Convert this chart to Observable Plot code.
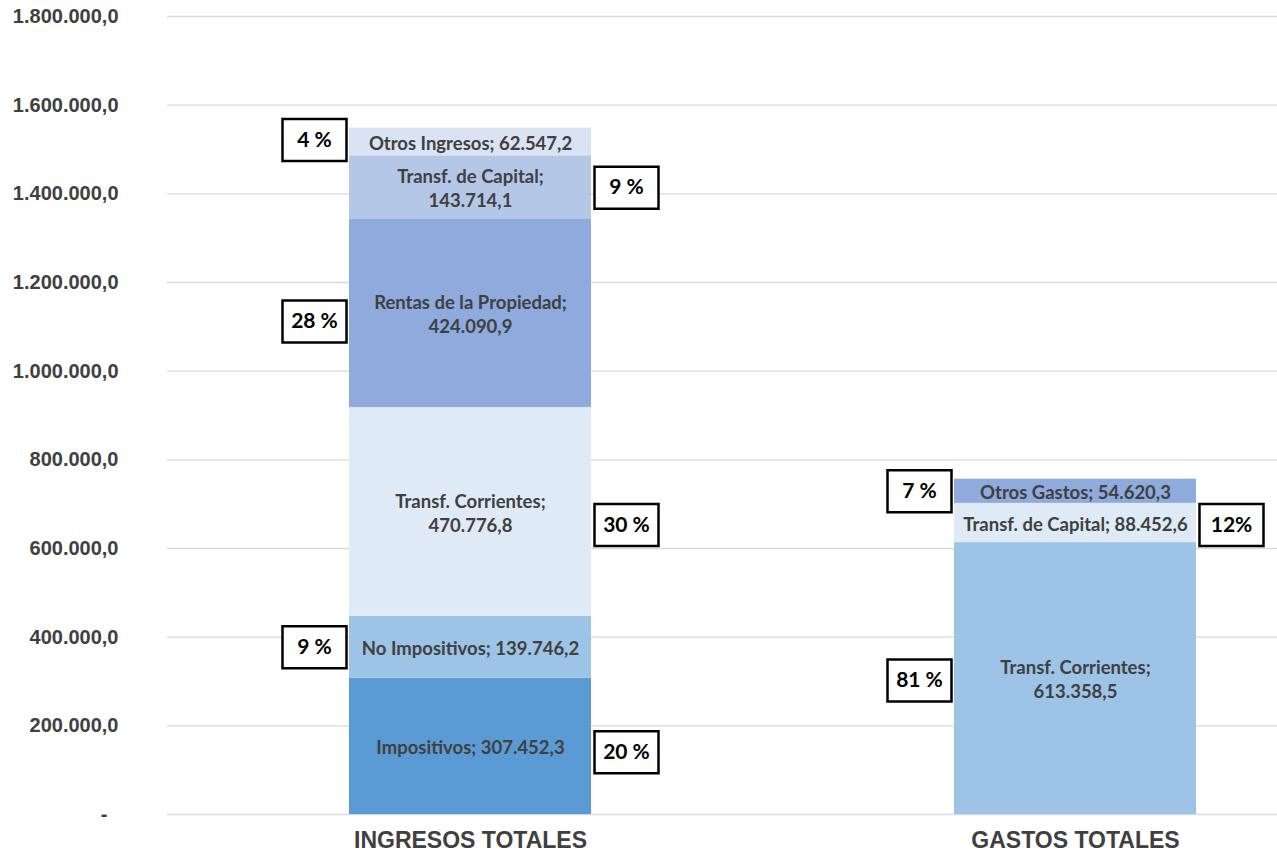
<!DOCTYPE html>
<html><head><meta charset="utf-8">
<script src="https://cdn.jsdelivr.net/npm/d3@7"></script>
<script src="https://cdn.jsdelivr.net/npm/@observablehq/plot@0.6"></script>
<style>
body{margin:0;background:#fff;}
#chart svg [aria-label="x-axis"] text, #chart svg [aria-label="x-axis tick label"] text {font-size:23px;}
</style>
</head><body><div id="chart"></div>
<script>
// ---- data ----
const groups = ["INGRESOS TOTALES", "GASTOS TOTALES"];
const ingresosNames = ["Impositivos", "No Impositivos", "Transf. Corrientes", "Rentas de la Propiedad", "Transf. de Capital", "Otros Ingresos"];
const ingresosValues = [307452.3, 139746.2, 470776.8, 424090.9, 143714.1, 62547.2];
const ingresosPct = ["20 %", "9 %", "30 %", "28 %", "9 %", "4 %"];
const gastosNames = ["Transf. Corrientes", "Transf. de Capital", "Otros Gastos"];
const gastosValues = [613358.5, 88452.6, 54620.3];
const gastosPct = ["81 %", "12%", "7 %"];
const yTicks = [0, 200000, 400000, 600000, 800000, 1000000, 1200000, 1400000, 1600000, 1800000];

// ---- styling / layout config ----
const palette = ["#5B9BD5", "#9DC3E6", "#DEEBF7", "#8FAADC", "#B4C7E7", "#DAE3F3", "#9DC3E6", "#DEEBF7", "#8FAADC"];
const wrapLabel = [false, false, true, true, true, false, true, false, false];
const pctSide = [1, -1, 1, -1, 1, -1, -1, 1, -1];
const pctDy = [6, 0, 13, 8, 0, -2, 2, 2, 0];

const fmt = d3.formatLocale({decimal: ",", thousands: ".", grouping: [3], currency: ["", ""]}).format(",.1f");

const rows = [
  ...ingresosNames.map((name, i) => ({group: groups[0], name, value: ingresosValues[i], pct: ingresosPct[i]})),
  ...gastosNames.map((name, i) => ({group: groups[1], name, value: gastosValues[i], pct: gastosPct[i]}))
].map((d, idx) => ({...d, idx, label: `${d.name};${wrapLabel[idx] ? "\n" : " "}${fmt(d.value)}`}));

const boxSymbol = {draw(ctx) { ctx.moveTo(-32, -21); ctx.lineTo(32, -21); ctx.lineTo(32, 21); ctx.lineTo(-32, 21); ctx.closePath(); }};

const pctMarks = rows.flatMap((r, i) => {
  const test = d => d.idx === i;
  const dx = pctSide[i] * 156, dy = pctDy[i];
  return [
    Plot.dot(rows, Plot.filter(test, Plot.stackY({x: "group", y: "value", symbol: boxSymbol, fill: "white", stroke: "black", strokeWidth: 2.5, dx, dy}))),
    Plot.text(rows, Plot.filter(test, Plot.stackY({x: "group", y: "value", text: "pct", fill: "black", fontFamily: "Lato, sans-serif", fontWeight: "bold", fontSize: 21, dx, dy})))
  ];
});

const chart = Plot.plot({
  width: 1277, height: 855,
  marginTop: 16, marginBottom: 41, marginLeft: 167, marginRight: 0,
  style: {fontFamily: "'Liberation Sans', Arial, sans-serif", fontSize: "20px", fontWeight: "bold", color: "#404040", background: "#fff"},
  x: {domain: groups, range: [167, 1377], paddingInner: 0.6, paddingOuter: 0.3, align: 0.5, label: null, tickSize: 0, tickPadding: 17},
  y: {domain: [0, 1800000], ticks: yTicks, tickFormat: d => d === 0 ? "-\u00a0\u00a0" : fmt(d), tickSize: 0, tickPadding: 49, label: null},
  color: {type: "identity"},
  marks: [
    Plot.ruleY(yTicks, {stroke: "#d9d9d9", strokeWidth: 1.3}),
    Plot.barY(rows, Plot.stackY({x: "group", y: "value", fill: d => palette[d.idx]})),
    Plot.text(rows, Plot.stackY({x: "group", y: "value", text: "label", fill: "#404040", fontFamily: "Lato, sans-serif", fontWeight: "bold", fontSize: 18.5, lineHeight: 1.3})),
    ...pctMarks
  ]
});
document.getElementById("chart").appendChild(chart);
</script></body></html>
